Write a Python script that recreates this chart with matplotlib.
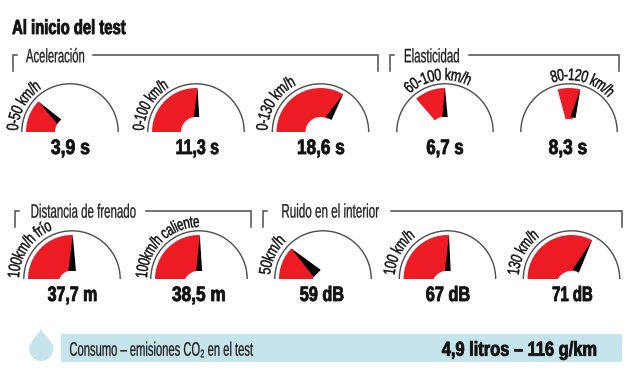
import numpy as np
import matplotlib
matplotlib.use("Agg")
import matplotlib.pyplot as plt
from matplotlib.patches import Arc, Wedge, Polygon, PathPatch, Rectangle, Circle
from matplotlib.path import Path
from matplotlib.patheffects import AbstractPathEffect
from matplotlib.transforms import Affine2D, IdentityTransform

# data
gauge_labels = ["0-50 km/h", "0-100 km/h", "0-130 km/h", "60-100 km/h", "80-120 km/h",
                "100km/h frío", "100km/h caliente", "50km/h", "100 km/h", "130 km/h"]
gauge_values = ["3,9 s", "11,3 s", "18,6 s", "6,7 s", "8,3 s",
                "37,7 m", "38,5 m", "59 dB", "67 dB", "71 dB"]
needle_deg = [136, 88, 59, 90, 75, 89, 89, 136, 88, 62]
red_start_deg = [180, 180, 180, 131, 105, 180, 180, 180, 180, 180]
section_titles = ["Aceleración", "Elasticidad", "Distancia de frenado", "Ruido en el interior"]
chart_title = "Al inicio del test"
consumo_label = "Consumo – emisiones CO₂ en el test"
consumo_value = "4,9 litros – 116 g/km"

# layout (pixels, y from the top)
cx = [70, 196, 320.5, 445, 569, 72, 199, 323, 447.5, 571.5]
cy = [132, 132, 132, 132, 132, 279, 279, 279, 279, 279]
hub_r = [15, 15, 15, 15.5, 13, 13.6, 16, 10, 16, 15.4]
hub_dy = [0, 0, 0, 0, 0, 5, 7.7, 0, 7.7, 7.3]
needle_r = [15, 15, 16, 15, 15, 8, 8, 8, 8, 9]
needle_half = [3, 2.7, 3.3, 2.7, 2.7, 3.8, 3, 5, 2.9, 3.5]
label_span = [(178, 124), (178, 122), (178, 118), (132, 64), (108, 42),
              (178, 112), (178, 90), (175, 135), (175, 128), (175, 128)]
label_R = [52, 52, 53, 52, 52, 53, 52, 53, 53, 53]
label_size = [8, 8, 8, 8, 8, 8, 8, 6.5, 7, 7]
value_x = [70.5, 197.5, 321, 445, 568, 72.5, 199, 322, 448, 572.5]
value_w = [38, 41.7, 46, 36, 37.3, 48.3, 52.3, 43, 43, 39.3]
value_base = [154, 154, 154, 154, 154, 301, 301, 301, 301, 301]
brackets = [(13, 93, 378, 55, 71), (390, 469, 619, 55, 71),
            (15, 146, 251, 211, 227), (263, 391, 622, 211, 227)]
section_x = [26, 403.3, 30, 280.7]
section_w = [58, 54, 104, 96.6]
section_base = [62.3, 62.3, 217.7, 217.5]

RED = "#ed1c24"
GREY = "#4d4d4d"
BLUE = "#c6e4ec"
SANS = ["Liberation Sans", "DejaVu Sans"]
H = 375
R_ARC, R_RED = 48.2, 44.0
LABEL_PT = 12.0


def _fill(renderer, gc, path, trans, rgb, stroke):
    gc0 = renderer.new_gc()
    gc0.copy_properties(gc)
    gc0.set_linewidth(stroke)
    gc0.set_foreground(rgb)
    renderer.draw_path(gc0, path, trans, rgb)
    gc0.restore()


class Squeeze(AbstractPathEffect):
    """Condense a text horizontally to a target width (the reference face is very narrow)."""
    def __init__(self, width, anchor="left", stroke=0.0):
        self.width, self.anchor, self.stroke = width, anchor, stroke

    def draw_path(self, renderer, gc, tpath, affine, rgbFace=None):
        k = np.hypot(*affine.get_matrix()[:2, 0])
        e = tpath.get_extents()
        sx = self.width / (e.width * k)
        x0 = e.x0 if self.anchor == "left" else (e.x0 + e.x1) / 2
        t = Affine2D().translate(-x0, 0).scale(sx, 1).translate(x0, 0) + affine
        _fill(renderer, gc, tpath, t, rgbFace, self.stroke)


class OnArc(AbstractPathEffect):
    """Bend a text along a circle around a gauge centre, between two angles."""
    def __init__(self, centre, R, th0, th1, yscale=1.0, stroke=0.0):
        self.centre, self.R, self.th0, self.th1 = centre, R, th0, th1
        self.yscale, self.stroke = yscale, stroke

    def draw_path(self, renderer, gc, tpath, affine, rgbFace=None):
        k = np.hypot(*affine.get_matrix()[:2, 0])
        e = tpath.get_extents()
        v = tpath.vertices
        th = np.radians(self.th0 + (v[:, 0] - e.x0) / e.width * (self.th1 - self.th0))
        r = self.R + v[:, 1] * k * self.yscale
        xy = np.column_stack([self.centre[0] + r * np.cos(th), self.centre[1] + r * np.sin(th)])
        _fill(renderer, gc, Path(xy, tpath.codes), IdentityTransform(), rgbFace, self.stroke)


fig = plt.figure(figsize=(6.4, 3.75), dpi=100)
ax = fig.add_axes([0, 0, 1, 1])
ax.set_xlim(0, 640); ax.set_ylim(0, H); ax.axis("off")

def Y(p):
    return H - p

def squeezed(x, base, s, width, size, bold=False, ha="left", color="#111", stroke=0.0):
    ax.text(x, Y(base), s, family=SANS, fontweight="bold" if bold else "normal", fontsize=size,
            va="baseline", ha=ha, color=color, path_effects=[Squeeze(width, ha, stroke)])

squeezed(12, 34, chart_title, 113, 14.7, bold=True, stroke=0.6)

for i, (x0, x1, x2, yt, yb) in enumerate(brackets):
    ax.plot([x0, x0, x0 + 4], [Y(yb), Y(yt), Y(yt)], color=GREY, lw=1.1, solid_joinstyle="miter")
    ax.plot([x1, x2, x2], [Y(yt), Y(yt), Y(yb)], color=GREY, lw=1.1, solid_joinstyle="miter")
    squeezed(section_x[i], section_base[i], section_titles[i], section_w[i], 14, color="#222", stroke=0.2)

for i in range(10):
    c = (cx[i], Y(cy[i]))
    ax.add_patch(Arc(c, 2 * R_ARC, 2 * R_ARC, theta1=0, theta2=180, color=GREY, lw=1.0))
    a = needle_deg[i]
    ax.add_patch(Wedge(c, R_RED, a, red_start_deg[i], color=RED, lw=0))
    ax.add_patch(Circle((c[0], c[1] - hub_dy[i]), hub_r[i], color="white", lw=0))
    t = np.radians(a)
    d = np.array([np.cos(t), np.sin(t)])
    n = np.array([-d[1], d[0]])
    tip = np.array(c) + R_RED * d
    b = np.array(c) + needle_r[i] * d
    h = needle_half[i]
    ax.add_patch(Polygon([tip, b + h * n, b - h * n], closed=True, color="black", lw=0))

    th0, th1 = label_span[i]
    mid = np.radians((th0 + th1) / 2)
    R = label_R[i]
    pos = (c[0] + (R + 5) * np.cos(mid), c[1] + (R + 5) * np.sin(mid))
    ax.text(pos[0], pos[1], gauge_labels[i], family=SANS, fontsize=label_size[i],
            rotation=(th0 + th1) / 2 - 90, rotation_mode="anchor", ha="center", va="center", color="#111",
            path_effects=[OnArc(ax.transData.transform(c), R, th0, th1, LABEL_PT / label_size[i], 0.3)])
    squeezed(value_x[i], value_base[i], gauge_values[i], value_w[i], 15, bold=True, ha="center", stroke=0.6)

ax.add_patch(Rectangle((61, Y(362)), 561, 28, color=BLUE, lw=0))
drop = Path([(41, Y(329)), (37, Y(337)), (29.3, Y(341)), (29.3, Y(349)),
             (29.3, Y(356)), (35, Y(361)), (41, Y(361)),
             (47.5, Y(361)), (53.3, Y(356)), (53.3, Y(349)),
             (53.3, Y(341)), (45, Y(337)), (41, Y(329))],
            [Path.MOVETO] + [Path.CURVE4] * 12)
ax.add_patch(PathPatch(drop, color=BLUE, lw=0))
squeezed(69, 355.7, consumo_label, 183, 14, color="#222", stroke=0.2)
squeezed(441.7, 355.7, consumo_value, 154, 14.5, bold=True, stroke=0.6)

fig.savefig("out.png", dpi=100)
